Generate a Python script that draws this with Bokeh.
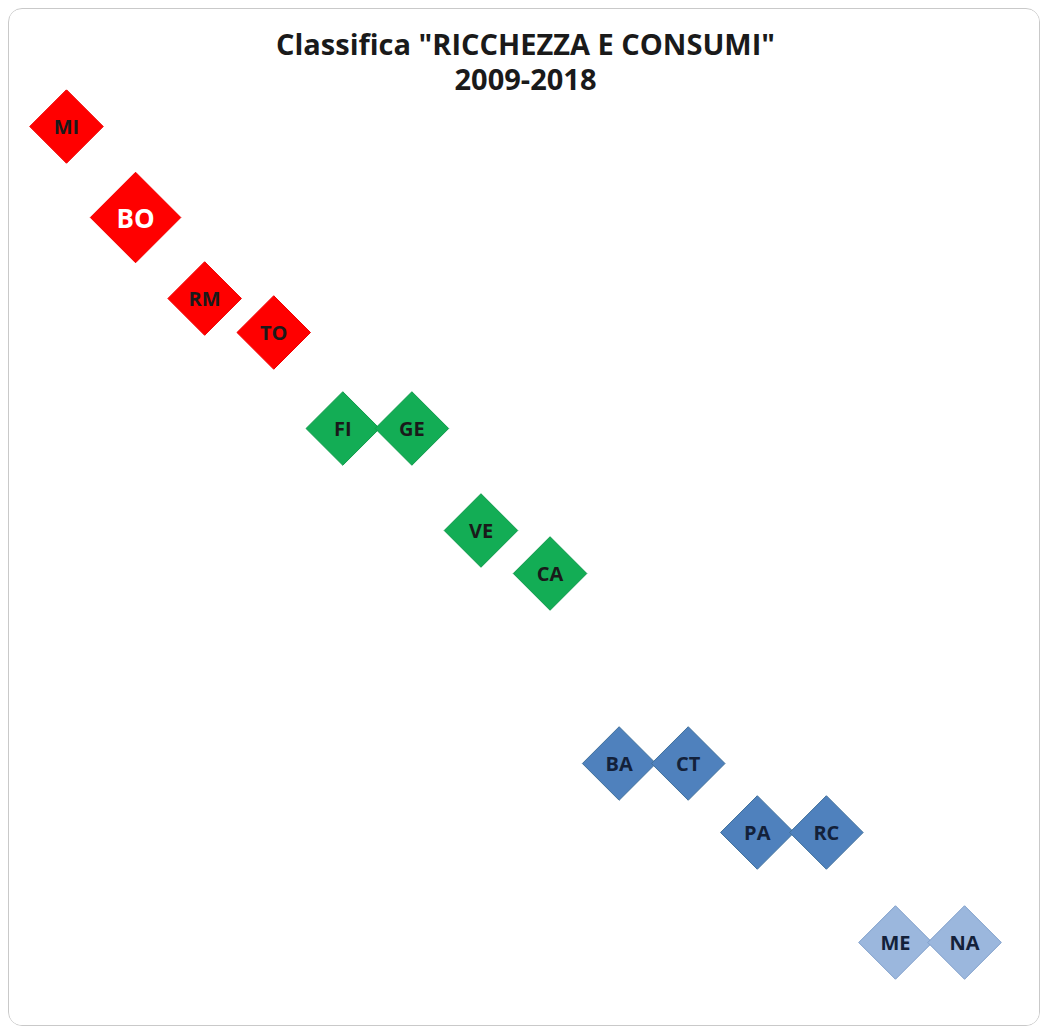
import math
from bokeh.plotting import figure
from bokeh.models import ColumnDataSource, Title, Range1d
from bokeh.core.properties import value
from bokeh.embed import file_html
from bokeh.resources import INLINE

# ---- data ----
cities = ["MI", "BO", "RM", "TO", "FI", "GE", "VE", "CA", "BA", "CT", "PA", "RC", "ME", "NA"]
rank = [1, 2, 3, 4, 5, 6, 7, 8, 9, 10, 11, 12, 13, 14]
score = [902, 811, 730, 696, 600, 600, 498, 455, 265, 265, 196, 196, 86, 86]
group = ["alta", "alta", "alta", "alta",
         "medio-alta", "medio-alta", "medio-alta", "medio-alta",
         "medio-bassa", "medio-bassa", "medio-bassa", "medio-bassa",
         "bassa", "bassa"]
highlight = "BO"

# ---- styles ----
fill_map = {"alta": "#FF0000", "medio-alta": "#13AD55", "medio-bassa": "#4F81BD", "bassa": "#9BB7DD"}
line_map = {"alta": "#F00000", "medio-alta": "#0F9A4B", "medio-bassa": "#41719C", "bassa": "#7F9FCB"}
text_map = {"alta": "#1A1A1A", "medio-alta": "#1A1A1A", "medio-bassa": "#13213A", "bassa": "#13213A"}

fills = [fill_map[g] for g in group]
lines = [line_map[g] for g in group]
tcols = ["#FFFFFF" if c == highlight else text_map[g] for c, g in zip(cities, group)]
msize = [64 if c == highlight else 52 for c in cities]
tsize = ["26px" if c == highlight else "20px" for c in cities]

src = ColumnDataSource(dict(x=rank, y=score, city=cities, fill=fills, line=lines,
                            tcol=tcols, msize=msize, tsize=tsize))

p = figure(width=1032, height=1018, output_backend="svg", toolbar_location=None,
           x_range=Range1d(0.175, 15.114), y_range=Range1d(1, 939),
           min_border=0, min_border_top=80, title=None)

p.add_layout(Title(text="2009-2018", align="center", text_font="Open Sans",
                   text_font_size="29px", text_font_style="bold", text_color="#1A1A1A",
                   standoff=0), "above")
p.add_layout(Title(text='Classifica "RICCHEZZA E CONSUMI"', align="center",
                   text_font="Open Sans", text_font_size="29px", text_font_style="bold",
                   text_color="#1A1A1A", standoff=7), "above")

p.axis.visible = False
p.grid.visible = False
p.outline_line_color = None
p.background_fill_color = "white"
p.border_fill_color = "white"

p.scatter("x", "y", source=src, marker="square", size="msize", angle=math.pi / 4,
          fill_color="fill", line_color="line", line_width=1)
p.text("x", "y", text="city", source=src, text_align="center", text_baseline="middle",
       text_font=value("Open Sans"), text_font_style="bold", text_font_size="tsize",
       text_color="tcol")

p.styles = {"margin": "8px", "border": "1px solid #c9c9c9", "border-radius": "14px",
            "overflow": "hidden"}

open("out.html", "w").write(file_html(p, INLINE))
